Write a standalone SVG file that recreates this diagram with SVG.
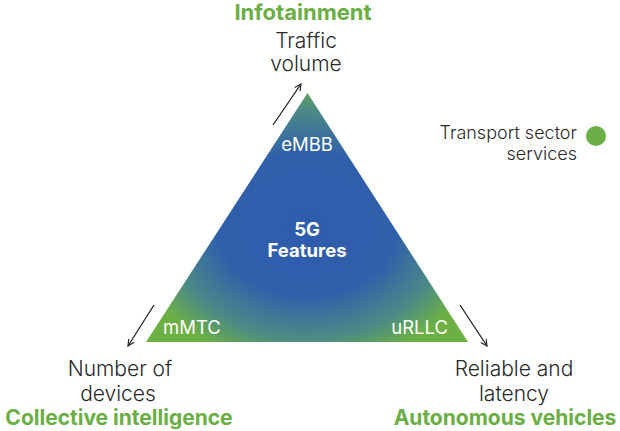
<svg xmlns="http://www.w3.org/2000/svg" width="620" height="431" viewBox="0 0 620 431">
<defs>
<radialGradient id="tri" gradientUnits="userSpaceOnUse" cx="307" cy="224" r="178" gradientTransform="translate(307 224) scale(1 0.8) translate(-307 -224)">
<stop offset="0" stop-color="#2f5cad"/>
<stop offset="0.5" stop-color="#305fab"/>
<stop offset="0.8" stop-color="#4b8a86"/>
<stop offset="1" stop-color="#6cb044"/>
</radialGradient>
<marker id="ah" viewBox="0 0 10 10" refX="9" refY="5" markerWidth="8" markerHeight="8" markerUnits="userSpaceOnUse" orient="auto">
<path d="M1,1 L9,5 L1,9" fill="none" stroke="#222" stroke-width="1.4"/>
</marker>
</defs>
<style>
.dark{font-family:Inter,"Open Sans",sans-serif;font-size:21px;font-weight:300;fill:#2a2a2a;text-anchor:middle}
.green{font-family:Inter,"Open Sans",sans-serif;font-size:21px;font-weight:700;fill:#6aae45;text-anchor:middle}
.white{font-family:Inter,"Open Sans",sans-serif;font-size:18.5px;fill:#ffffff}
.legend{font-family:Inter,"Open Sans",sans-serif;font-size:18px;font-weight:300;fill:#2a2a2a;text-anchor:end}
.conn{stroke:#222;stroke-width:1.3;fill:none;marker-end:url(#ah)}
</style>
<g id="triangle">
<polygon points="307.5,93 146,342 468,342" fill="url(#tri)"/>
<text class="white" x="307" y="151" text-anchor="middle">eMBB</text>
<text class="white" x="163" y="334">mMTC</text>
<text class="white" x="448" y="334" text-anchor="end">uRLLC</text>
<text class="white" x="307" y="236" text-anchor="middle" font-weight="700">5G</text>
<text class="white" x="307" y="257" text-anchor="middle" font-weight="700">Features</text>
</g>
<g id="connectors">
<line class="conn" x1="273" y1="125" x2="301" y2="84"/>
<line class="conn" x1="154" y1="305" x2="128" y2="346"/>
<line class="conn" x1="460" y1="305" x2="487" y2="346"/>
</g>
<g id="top">
<text class="green" x="303" y="20" style="font-size:22px">Infotainment</text>
<text class="dark" x="306" y="48">Traffic</text>
<text class="dark" x="306" y="71">volume</text>
</g>
<g id="left">
<text class="dark" x="120" y="376">Number of</text>
<text class="dark" x="118" y="401">devices</text>
<text class="green" x="119" y="425">Collective intelligence</text>
</g>
<g id="right">
<text class="dark" x="514" y="376">Reliable and</text>
<text class="dark" x="514" y="401">latency</text>
<text class="green" x="505" y="425">Autonomous vehicles</text>
</g>
<g id="legend">
<text class="legend" x="577" y="139">Transport sector</text>
<text class="legend" x="577" y="160">services</text>
<circle cx="596" cy="136" r="10" fill="#6aae45"/>
</g>
</svg>
